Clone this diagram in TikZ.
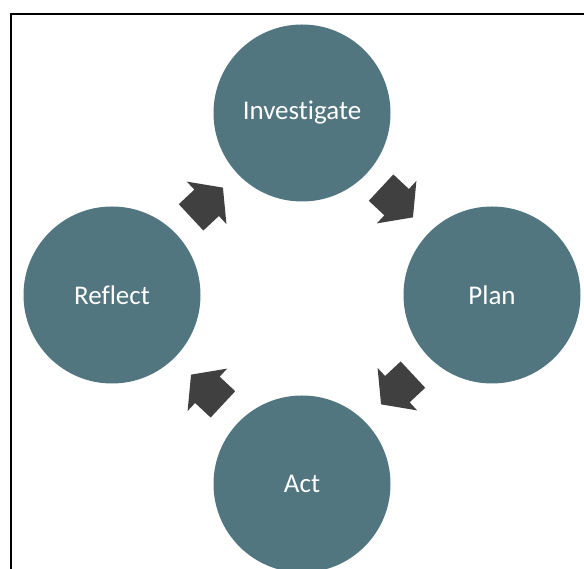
\documentclass[tikz,border=0pt]{standalone}
\usepackage{fontspec}
\setmainfont{Carlito}[Ligatures=NoCommon]
\usetikzlibrary{calc}
\definecolor{circfill}{RGB}{81,118,127}
\definecolor{arrowfill}{RGB}{64,64,64}
\tikzset{
  stage/.style={circle, fill=circfill, draw=none, minimum size=177pt, inner sep=0pt,
    text=white, font=\fontsize{27}{31}\selectfont},
  blockarrow/.pic={
    \fill[arrowfill] (-21.8,-18) -- (-0.5,-18) -- (-0.5,-29) -- (21.8,0)
      -- (-0.5,29) -- (-0.5,18) -- (-21.8,18) -- cycle;
  },
  frameline/.style={draw=black, line width=2.3pt}
}
\begin{document}
\begin{tikzpicture}[x=1pt,y=1pt]
\useasboundingbox (0,0) rectangle (584,569);
\coordinate (fa) at (584,555);
\coordinate (fb) at (11,555);
\coordinate (fc) at (11,0);
\draw[frameline] (fa) -- (fb) -- (fc);
\node[stage] (inv) at (302,456) {Investigate};
\node[stage] (plan) at (492,274) {Plan};
\node[stage] (act) at (302,85) {Act};
\node[stage] (refl) at (112,274) {Reflect};
\coordinate (a1) at ($(inv)!0.5!(plan)+(0,1.5)$);
\coordinate (a2) at ($(plan)!0.5!(act)+(0,0)$);
\coordinate (a3) at ($(act)!0.5!(refl)$);
\coordinate (a4) at ($(refl)!0.5!(inv)+(0,1.5)$);
\path (a1) pic[rotate=-43] {blockarrow};
\path (a2) pic[rotate=-137] {blockarrow};
\path (a3) pic[rotate=137] {blockarrow};
\path (a4) pic[rotate=43] {blockarrow};
\end{tikzpicture}
\end{document}
